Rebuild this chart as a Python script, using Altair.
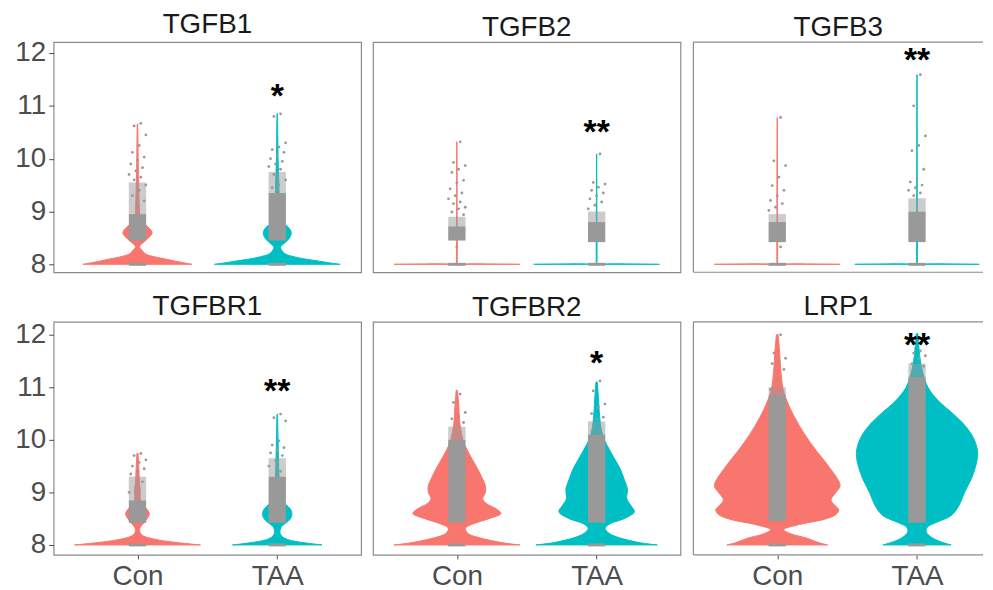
import altair as alt
import pandas as pd

genes = ["TGFB1", "TGFB2", "TGFB3", "TGFBR1", "TGFBR2", "LRP1"]
groups = ["Con", "TAA"]
group_colors = ["#F8766D", "#00BFC4"]

# ---- violin outlines: expression level (y) and half-width (w) ----
tgfb1_con_y = [8.0, 8.03, 8.06, 8.1, 8.14, 8.2, 8.27, 8.33, 8.39, 8.48, 8.6, 8.73, 8.82, 8.92, 9.1, 9.4, 9.8, 10.2, 10.65]
tgfb1_con_w = [0.39, 0.33, 0.27, 0.2, 0.126, 0.055, 0.031, 0.014, 0.031, 0.071, 0.105, 0.066, 0.031, 0.017, 0.013, 0.01, 0.006, 0.004, 0.002]
tgfb1_taa_y = [8.0, 8.03, 8.06, 8.1, 8.14, 8.2, 8.27, 8.33, 8.42, 8.51, 8.6, 8.7, 8.79, 8.92, 9.2, 9.5, 10.0, 10.4, 10.85]
tgfb1_taa_w = [0.45, 0.37, 0.3, 0.2, 0.126, 0.055, 0.031, 0.024, 0.06, 0.09, 0.1, 0.08, 0.036, 0.019, 0.014, 0.012, 0.006, 0.004, 0.002]
tgfb2_con_y = [8.0, 8.008, 8.016, 8.022, 8.03, 8.5, 9.0, 10.32]
tgfb2_con_w = [0.45, 0.2, 0.004, 0.003, 0.003, 0.003, 0.002, 0.001]
tgfb2_taa_y = [8.0, 8.008, 8.016, 8.022, 8.03, 8.5, 9.0, 10.09]
tgfb2_taa_w = [0.45, 0.2, 0.004, 0.003, 0.003, 0.003, 0.002, 0.001]
tgfb3_con_y = [8.0, 8.008, 8.016, 8.022, 8.03, 8.5, 9.0, 10.78]
tgfb3_con_w = [0.45, 0.2, 0.004, 0.003, 0.003, 0.003, 0.002, 0.001]
tgfb3_taa_y = [8.0, 8.008, 8.016, 8.022, 8.03, 8.5, 9.0, 11.59]
tgfb3_taa_w = [0.445, 0.2, 0.004, 0.003, 0.003, 0.003, 0.002, 0.001]
tgfbr1_con_y = [8.0, 8.04, 8.1, 8.17, 8.23, 8.32, 8.41, 8.51, 8.6, 8.7, 8.79, 8.89, 9.0, 9.2, 9.45, 9.74]
tgfbr1_con_w = [0.45, 0.30, 0.14, 0.043, 0.019, 0.017, 0.043, 0.071, 0.085, 0.062, 0.031, 0.019, 0.021, 0.014, 0.01, 0.004]
tgfbr1_taa_y = [8.0, 8.04, 8.1, 8.17, 8.26, 8.35, 8.45, 8.54, 8.64, 8.73, 8.83, 8.95, 9.2, 9.5, 10.0, 10.49]
tgfbr1_taa_w = [0.32, 0.197, 0.078, 0.031, 0.019, 0.031, 0.078, 0.102, 0.102, 0.078, 0.036, 0.019, 0.014, 0.01, 0.006, 0.002]
tgfbr2_con_y = [8.0, 8.04, 8.13, 8.22, 8.32, 8.41, 8.5, 8.6, 8.69, 8.79, 8.88, 9.0, 9.13, 9.25, 9.44, 9.63, 9.82, 10.0, 10.2, 10.38, 10.63, 10.94]
tgfbr2_con_w = [0.45, 0.33, 0.17, 0.078, 0.062, 0.126, 0.23, 0.315, 0.28, 0.21, 0.185, 0.204, 0.204, 0.185, 0.15, 0.11, 0.071, 0.043, 0.028, 0.019, 0.014, 0.005]
tgfbr2_taa_y = [8.0, 8.04, 8.13, 8.22, 8.32, 8.41, 8.5, 8.63, 8.75, 8.88, 9.06, 9.25, 9.44, 9.63, 9.82, 10.0, 10.2, 10.45, 10.76, 11.1]
tgfbr2_taa_w = [0.434, 0.315, 0.17, 0.09, 0.06, 0.10, 0.197, 0.27, 0.245, 0.216, 0.22, 0.197, 0.17, 0.13, 0.09, 0.055, 0.033, 0.021, 0.014, 0.005]
lrp1_con_y = [8.0, 8.04, 8.13, 8.21, 8.29, 8.39, 8.49, 8.58, 8.67, 8.76, 8.86, 9.0, 9.13, 9.47, 9.79, 10.1, 10.42, 10.73, 10.95, 11.36, 11.67, 12.0]
lrp1_con_w = [0.36, 0.30, 0.21, 0.10, 0.047, 0.16, 0.34, 0.42, 0.44, 0.41, 0.385, 0.42, 0.45, 0.375, 0.28, 0.197, 0.126, 0.071, 0.043, 0.024, 0.017, 0.006]
lrp1_taa_y = [8.0, 8.06, 8.15, 8.25, 8.34, 8.43, 8.56, 8.75, 9.0, 9.25, 9.5, 9.75, 10.0, 10.25, 10.5, 10.75, 11.0, 11.26, 11.5, 11.75, 12.02]
lrp1_taa_w = [0.244, 0.17, 0.10, 0.066, 0.074, 0.14, 0.245, 0.30, 0.34, 0.387, 0.42, 0.434, 0.41, 0.35, 0.256, 0.15, 0.078, 0.043, 0.024, 0.014, 0.006]

# ---- cell points: dense band, lighter band, and sparse high cells (order: gene x group) ----
band_lo = [8.45, 8.45, 8.45, 8.42, 8.42, 8.42, 8.42, 8.42, 8.42, 8.42, 8.45, 8.42]
band_hi = [8.95, 9.35, 8.72, 8.8, 8.8, 9.0, 8.85, 9.3, 10.0, 10.1, 10.85, 11.2]
haze_hi = [9.55, 9.75, 8.9, 9.0, 8.95, 9.25, 9.3, 9.65, 10.25, 10.35, 11.0, 11.45]
tgfb1_con_pts = [10.67, 10.62, 10.45, 10.25, 10.12, 10.03, 9.97, 9.9, 9.83, 9.77, 9.7, 9.65, 9.6, 9.5, 9.4, 9.3, 9.2, 9.1]
tgfb1_taa_pts = [10.85, 10.8, 10.3, 10.22, 10.17, 10.12, 10.06, 10.0, 9.95, 9.9, 9.85, 9.8, 9.7, 9.6, 9.5, 9.45]
tgfb2_con_pts = [10.32, 9.93, 9.87, 9.8, 9.74, 9.59, 9.54, 9.43, 9.35, 9.3, 9.24, 9.18, 9.15, 9.08, 9.05, 8.99, 8.94, 8.33]
tgfb2_taa_pts = [10.09, 9.55, 9.52, 9.46, 9.4, 9.35, 9.3, 9.24, 9.18, 9.12, 9.05]
tgfb3_con_pts = [10.78, 9.96, 9.87, 9.65, 9.49, 9.4, 9.3, 9.21, 9.15, 9.08, 9.02, 8.33]
tgfb3_taa_pts = [11.59, 11.0, 10.43, 10.25, 10.15, 9.8, 9.62, 9.56, 9.5, 9.45, 9.4, 9.35, 9.3]
tgfbr1_con_pts = [9.74, 9.7, 9.62, 9.57, 9.5, 9.45, 9.4, 9.35, 9.2, 9.1, 9.0]
tgfbr1_taa_pts = [10.49, 10.42, 10.36, 9.98, 9.9, 9.85, 9.8, 9.75, 9.7, 9.6, 9.5, 9.4]
tgfbr2_con_pts = [10.87, 10.71, 10.52, 10.45, 10.4, 10.33, 10.3]
tgfbr2_taa_pts = [11.12, 10.93, 10.68, 10.62, 10.5, 10.43, 10.4]
lrp1_con_pts = [12.0, 11.65, 11.55, 11.5, 11.45, 11.34, 11.12, 10.96]
lrp1_taa_pts = [11.69, 11.65, 11.6, 11.55, 11.45, 11.4]

# ---- significance marks above TAA ----
sig_label = ["*", "**", "**", "**", "*", "**"]
sig_y = [11.27, 10.6, 11.96, 11.02, 11.56, 11.9]

violins = {
    ("TGFB1", "Con"): (tgfb1_con_y, tgfb1_con_w, tgfb1_con_pts),
    ("TGFB1", "TAA"): (tgfb1_taa_y, tgfb1_taa_w, tgfb1_taa_pts),
    ("TGFB2", "Con"): (tgfb2_con_y, tgfb2_con_w, tgfb2_con_pts),
    ("TGFB2", "TAA"): (tgfb2_taa_y, tgfb2_taa_w, tgfb2_taa_pts),
    ("TGFB3", "Con"): (tgfb3_con_y, tgfb3_con_w, tgfb3_con_pts),
    ("TGFB3", "TAA"): (tgfb3_taa_y, tgfb3_taa_w, tgfb3_taa_pts),
    ("TGFBR1", "Con"): (tgfbr1_con_y, tgfbr1_con_w, tgfbr1_con_pts),
    ("TGFBR1", "TAA"): (tgfbr1_taa_y, tgfbr1_taa_w, tgfbr1_taa_pts),
    ("TGFBR2", "Con"): (tgfbr2_con_y, tgfbr2_con_w, tgfbr2_con_pts),
    ("TGFBR2", "TAA"): (tgfbr2_taa_y, tgfbr2_taa_w, tgfbr2_taa_pts),
    ("LRP1", "Con"): (lrp1_con_y, lrp1_con_w, lrp1_con_pts),
    ("LRP1", "TAA"): (lrp1_taa_y, lrp1_taa_w, lrp1_taa_pts),
}

v_rows, b_rows, p_rows = [], [], []
k = 0
for g in genes:
    for gi, grp in enumerate(groups):
        ys, ws, pts = violins[(g, grp)]
        pos = gi + 1
        for y, w in zip(ys, ws):
            v_rows.append({"gene": g, "group": grp, "pos": pos, "y": y, "w": w})
        b_rows.append({"gene": g, "group": grp, "pos": pos, "lo": band_lo[k], "hi": band_hi[k], "hz": haze_hi[k]})
        for y in pts:
            p_rows.append({"gene": g, "group": grp, "pos": pos, "y": y})
        k += 1
vdf = pd.DataFrame(v_rows)
bdf = pd.DataFrame(b_rows)
pdf = pd.DataFrame(p_rows)
sdf = pd.DataFrame({"gene": genes, "label": sig_label, "y": sig_y, "pos": [2] * len(genes)})

FONT = "Liberation Sans"
GREY = "#999999"
color_scale = alt.Scale(domain=groups, range=group_colors)
JW = 0.062  # half width of jitter band


def panel(i, gene):
    row, col = divmod(i, 3)
    W = 310 if col < 2 else 292
    if row == 0:
        H, ydom = 232, [7.85, 12.207]
    else:
        H, ydom = 235, [7.81, 12.245]
    xmax = 2.6 if col < 2 else 0.4 + 2.2 * W / 310
    xs = alt.Scale(domain=[0.4, xmax], nice=False, zero=False)
    ys = alt.Scale(domain=ydom, nice=False, zero=False)
    if row == 1:
        xa = alt.Axis(values=[1, 2], labelExpr="datum.value == 1 ? 'Con' : 'TAA'",
                      tickSize=4, labelPadding=4, title=None, grid=False, domain=False)
    else:
        xa = None
    if col == 0:
        ya = alt.Axis(values=[8, 9, 10, 11, 12], tickSize=5, labelPadding=3, title=None,
                      grid=False, domain=False)
    else:
        ya = None
    flt = alt.datum.gene == gene

    area = alt.Chart(vdf).transform_filter(flt).transform_calculate(
        xl="datum.pos - datum.w", xr="datum.pos + datum.w"
    ).mark_area(orient="horizontal", interpolate="catmull-rom", strokeWidth=1).encode(
        y=alt.Y("y:Q", scale=ys, axis=ya),
        x=alt.X("xl:Q", scale=xs, axis=xa),
        x2="xr:Q",
        color=alt.Color("group:N", scale=color_scale, legend=None),
        stroke=alt.Stroke("group:N", scale=color_scale, legend=None),
    )
    bands = alt.Chart(bdf).transform_filter(flt).transform_calculate(
        bl=f"datum.pos - {JW}", br=f"datum.pos + {JW}"
    )
    dense = bands.mark_rect(color=GREY).encode(
        x=alt.X("bl:Q", scale=xs, axis=xa), x2="br:Q",
        y=alt.Y("lo:Q", scale=ys, axis=ya), y2="hi:Q")
    haze = bands.mark_rect(color=GREY, opacity=0.5).encode(
        x=alt.X("bl:Q", scale=xs, axis=xa), x2="br:Q",
        y=alt.Y("hi:Q", scale=ys, axis=ya), y2="hz:Q")
    base = bands.mark_rule(color=GREY, strokeWidth=3).encode(
        x=alt.X("bl:Q", scale=xs, axis=xa), x2="br:Q",
        y=alt.Y(datum=8.0, scale=ys, axis=ya))
    pts = alt.Chart(pdf).transform_filter(flt).transform_window(
        idx="row_number()", groupby=["group"]
    ).transform_calculate(
        jx="datum.pos + ((datum.idx * 7) % 11 - 5) * 0.012"
    ).mark_circle(size=8, color=GREY, opacity=1).encode(
        x=alt.X("jx:Q", scale=xs, axis=xa),
        y=alt.Y("y:Q", scale=ys, axis=ya))
    stars = alt.Chart(sdf).transform_filter(flt).mark_text(
        fontSize=34, fontWeight="bold", color="black", baseline="alphabetic", dy=16, font=FONT
    ).encode(
        x=alt.X("pos:Q", scale=xs, axis=xa),
        y=alt.Y("y:Q", scale=ys, axis=ya),
        text="label:N")
    layers = [area, dense, haze, base, pts, stars]
    props = dict(width=W, height=H,
                 title=alt.TitleParams(gene, fontSize=28, font=FONT, fontWeight="normal",
                                       color="#1a1a1a", offset=0))
    if col == 2:
        one = alt.Data(values=[{}])
        bc = "#8a8a8a"
        layers += [
            alt.Chart(one).mark_rule(color=bc, strokeWidth=1.2).encode(
                x=alt.value(0), y=alt.value(0), y2=alt.value(H)),
            alt.Chart(one).mark_rule(color=bc, strokeWidth=1.2).encode(
                x=alt.value(0), x2=alt.value(W), y=alt.value(0)),
            alt.Chart(one).mark_rule(color=bc, strokeWidth=1.2).encode(
                x=alt.value(0), x2=alt.value(W), y=alt.value(H)),
        ]
        props["view"] = alt.ViewBackground(stroke="transparent")
    return alt.layer(*layers).properties(**props)


panels = [panel(i, g) for i, g in enumerate(genes)]
chart = alt.vconcat(
    alt.hconcat(*panels[:3], spacing=10),
    alt.hconcat(*panels[3:], spacing=10),
    spacing=13,
).properties(
    padding={"left": 6, "top": 0, "right": 0, "bottom": 0}
).configure_view(
    stroke="#8a8a8a", strokeWidth=1.2
).configure_axis(
    labelFont=FONT, labelFontSize=28, labelColor="#4D4D4D", tickColor="#4D4D4D"
).configure_title(
    font=FONT
)

chart.save("out.html", embed_options={"renderer": "svg", "actions": False})
